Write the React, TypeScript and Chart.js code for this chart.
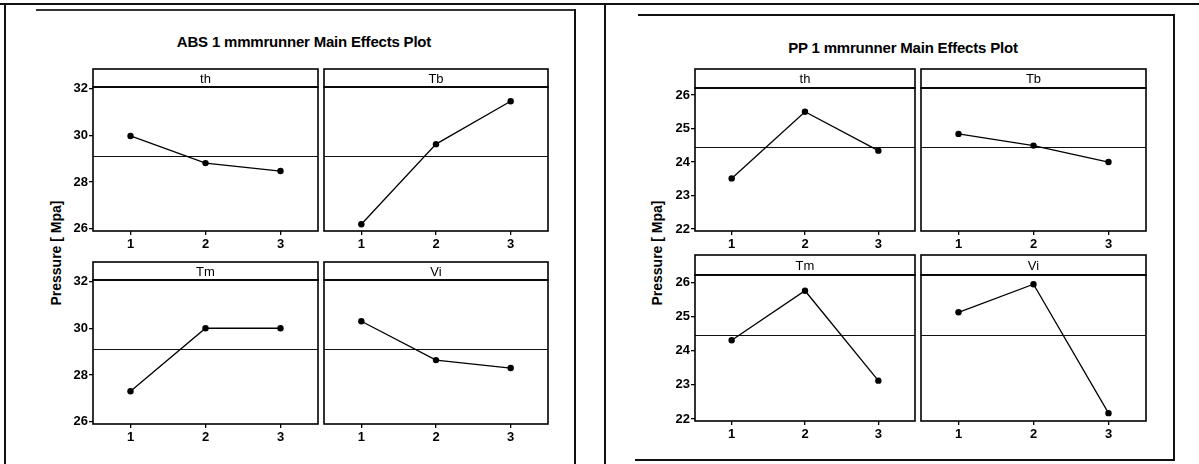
import React, { useEffect, useRef } from 'react';
import { Chart, registerables } from 'chart.js';

Chart.register(...registerables);

// ---------- data ----------
const levels = ['1', '2', '3'];
const factorNames = ['th', 'Tb', 'Tm', 'Vi'];

const absTh = [29.97, 28.81, 28.47];
const absTb = [26.2, 29.62, 31.45];
const absTm = [27.31, 30.0, 30.0];
const absVi = [30.3, 28.64, 28.3];
const absMean = 29.1;
const absTicks = [26, 28, 30, 32];

const ppTh = [23.51, 25.5, 24.34];
const ppTb = [24.84, 24.49, 24.0];
const ppTm = [24.3, 25.75, 23.12];
const ppVi = [25.12, 25.94, 22.17];
const ppMean = 24.46;
const ppTicks = [22, 23, 24, 25, 26];

const absTitle = 'ABS 1 mmmrunner Main Effects Plot';
const ppTitle = 'PP 1 mmrunner Main Effects Plot';
const yTitle = 'Pressure [ Mpa]';

const FONT = '"Liberation Sans", Arial, sans-serif';

type FacetProps = {
  left: number;
  top: number;
  plotW: number;
  plotH: number;
  stripH: number;
  label: string;
  values: number[];
  mean: number;
  yMin: number;
  yMax: number;
  yTicks: number[];
  showY: boolean;
};

const YW = 42;
const XH = 26;

function Facet(p: FacetProps) {
  const ref = useRef<HTMLCanvasElement>(null);
  const padL = p.showY ? 0 : 1;
  const width = (p.showY ? YW : 0) + padL + p.plotW + 1;
  const height = 1 + p.stripH + p.plotH + XH;
  const canvasLeft = p.left - (p.showY ? YW : 0) - padL;
  const canvasTop = p.top - 1;

  useEffect(() => {
    const decor = {
      id: 'facetDecor',
      beforeDatasetsDraw(chart: any) {
        const { ctx, chartArea: a, scales } = chart;
        const y = Math.round(scales.y.getPixelForValue(p.mean)) + 0.5;
        ctx.save();
        ctx.strokeStyle = '#111';
        ctx.lineWidth = 1.2;
        ctx.beginPath();
        ctx.moveTo(a.left, y);
        ctx.lineTo(a.right, y);
        ctx.stroke();
        ctx.restore();
      },
      afterDraw(chart: any) {
        const { ctx, chartArea: a } = chart;
        ctx.save();
        ctx.strokeStyle = '#000';
        ctx.lineWidth = 1.6;
        ctx.strokeRect(a.left, a.top, a.right - a.left, a.bottom - a.top);
        ctx.strokeRect(a.left, 1, a.right - a.left, a.top - 1);
        ctx.fillStyle = '#000';
        ctx.font = '13px ' + FONT;
        ctx.textAlign = 'center';
        ctx.textBaseline = 'middle';
        ctx.fillText(p.label, (a.left + a.right) / 2, (1 + a.top) / 2 + 1);
        ctx.restore();
      },
    };

    const chart = new Chart(ref.current as HTMLCanvasElement, {
      type: 'line',
      data: {
        labels: levels,
        datasets: [
          {
            data: p.values,
            borderColor: '#000',
            backgroundColor: '#000',
            borderWidth: 1.3,
            pointRadius: 3.2,
            pointBackgroundColor: '#000',
            pointBorderWidth: 0,
            tension: 0,
          },
        ],
      },
      options: {
        responsive: false,
        animation: false,
        layout: { padding: { top: 1 + p.stripH, left: padL, right: 1, bottom: 0 } },
        plugins: {
          legend: { display: false },
          tooltip: { enabled: false },
          title: { display: false },
        },
        scales: {
          x: {
            type: 'category',
            offset: true,
            afterFit: (s: any) => {
              s.height = XH;
            },
            grid: {
              display: true,
              drawOnChartArea: false,
              drawTicks: true,
              tickLength: 4,
              color: '#000',
              lineWidth: 1.3,
              offset: false,
            },
            border: { display: false },
            ticks: {
              color: '#000',
              padding: 2,
              maxRotation: 0,
              font: { size: 13, weight: 'bold', family: FONT },
            },
          },
          y: {
            display: p.showY,
            min: p.yMin,
            max: p.yMax,
            afterBuildTicks: (s: any) => {
              s.ticks = p.yTicks.map((v) => ({ value: v }));
            },
            afterFit: (s: any) => {
              if (p.showY) s.width = YW;
              else s.width = 0;
            },
            grid: {
              display: true,
              drawOnChartArea: false,
              drawTicks: true,
              tickLength: 4,
              color: '#000',
              lineWidth: 1.3,
            },
            border: { display: false },
            ticks: {
              color: '#000',
              padding: 1,
              font: { size: 13, weight: 'bold', family: FONT },
            },
          },
        },
      },
      plugins: [decor],
    } as any);
    return () => chart.destroy();
  }, []);

  return (
    <canvas
      ref={ref}
      width={width}
      height={height}
      style={{ position: 'absolute', left: canvasLeft, top: canvasTop, width, height }}
    />
  );
}

function Line(props: { l: number; t: number; w: number; h: number; c?: string }) {
  return (
    <div
      style={{
        position: 'absolute',
        left: props.l,
        top: props.t,
        width: props.w,
        height: props.h,
        background: props.c || '#111',
      }}
    />
  );
}

function Title(props: { text: string; cx: number; cy: number }) {
  return (
    <div
      style={{
        position: 'absolute',
        left: props.cx - 200,
        top: props.cy - 10,
        width: 400,
        height: 20,
        lineHeight: '20px',
        textAlign: 'center',
        fontFamily: FONT,
        fontWeight: 'bold',
        fontSize: 15,
        letterSpacing: -0.2,
        color: '#000',
        whiteSpace: 'nowrap',
      }}
    >
      {props.text}
    </div>
  );
}

function YTitle(props: { cx: number; cy: number }) {
  return (
    <div
      style={{
        position: 'absolute',
        left: props.cx - 100,
        top: props.cy - 9,
        width: 200,
        height: 18,
        lineHeight: '18px',
        textAlign: 'center',
        fontFamily: FONT,
        fontWeight: 'bold',
        fontSize: 14,
        color: '#000',
        transform: 'rotate(-90deg)',
        whiteSpace: 'nowrap',
      }}
    >
      {yTitle}
    </div>
  );
}

export default function App() {
  const absMin = 25.91;
  const absMax = 32.06;
  const ppMin = 21.94;
  const ppMax = 26.21;
  return (
    <div
      style={{
        position: 'fixed',
        left: 0,
        top: 0,
        width: 1199,
        height: 464,
        background: '#fff',
        overflow: 'hidden',
      }}
    >
      {/* frame lines */}
      <Line l={0} t={3} w={1199} h={2} />
      <Line l={4} t={3} w={2} h={461} />
      <Line l={36} t={9} w={540} h={1.5} c="#333" />
      <Line l={574} t={9} w={2} h={455} />
      <Line l={604} t={3} w={2} h={461} />
      <Line l={638} t={14} w={536} h={2} />
      <Line l={1173} t={14} w={2} h={447} />
      <Line l={635} t={459} w={540} h={2} />

      <Title text={absTitle} cx={304} cy={42} />
      <Title text={ppTitle} cx={903} cy={48} />
      <YTitle cx={56} cy={253} />
      <YTitle cx={657} cy={253} />

      {/* ABS facets */}
      <Facet left={93} top={69} plotW={228} plotH={144} stripH={18} label={factorNames[0]} values={absTh} mean={absMean} yMin={absMin} yMax={absMax} yTicks={absTicks} showY={true} />
      <Facet left={321} top={69} plotW={230} plotH={144} stripH={18} label={factorNames[1]} values={absTb} mean={absMean} yMin={absMin} yMax={absMax} yTicks={absTicks} showY={false} />
      <Facet left={93} top={262} plotW={228} plotH={144} stripH={18} label={factorNames[2]} values={absTm} mean={absMean} yMin={absMin} yMax={absMax} yTicks={absTicks} showY={true} />
      <Facet left={321} top={262} plotW={230} plotH={144} stripH={18} label={factorNames[3]} values={absVi} mean={absMean} yMin={absMin} yMax={absMax} yTicks={absTicks} showY={false} />

      {/* PP facets */}
      <Facet left={695} top={69} plotW={223} plotH={143} stripH={19} label={factorNames[0]} values={ppTh} mean={ppMean} yMin={ppMin} yMax={ppMax} yTicks={ppTicks} showY={true} />
      <Facet left={918} top={69} plotW={231} plotH={143} stripH={19} label={factorNames[1]} values={ppTb} mean={ppMean} yMin={ppMin} yMax={ppMax} yTicks={ppTicks} showY={false} />
      <Facet left={695} top={255} plotW={223} plotH={146} stripH={20} label={factorNames[2]} values={ppTm} mean={ppMean} yMin={ppMin} yMax={ppMax} yTicks={ppTicks} showY={true} />
      <Facet left={918} top={255} plotW={231} plotH={146} stripH={20} label={factorNames[3]} values={ppVi} mean={ppMean} yMin={ppMin} yMax={ppMax} yTicks={ppTicks} showY={false} />
    </div>
  );
}
